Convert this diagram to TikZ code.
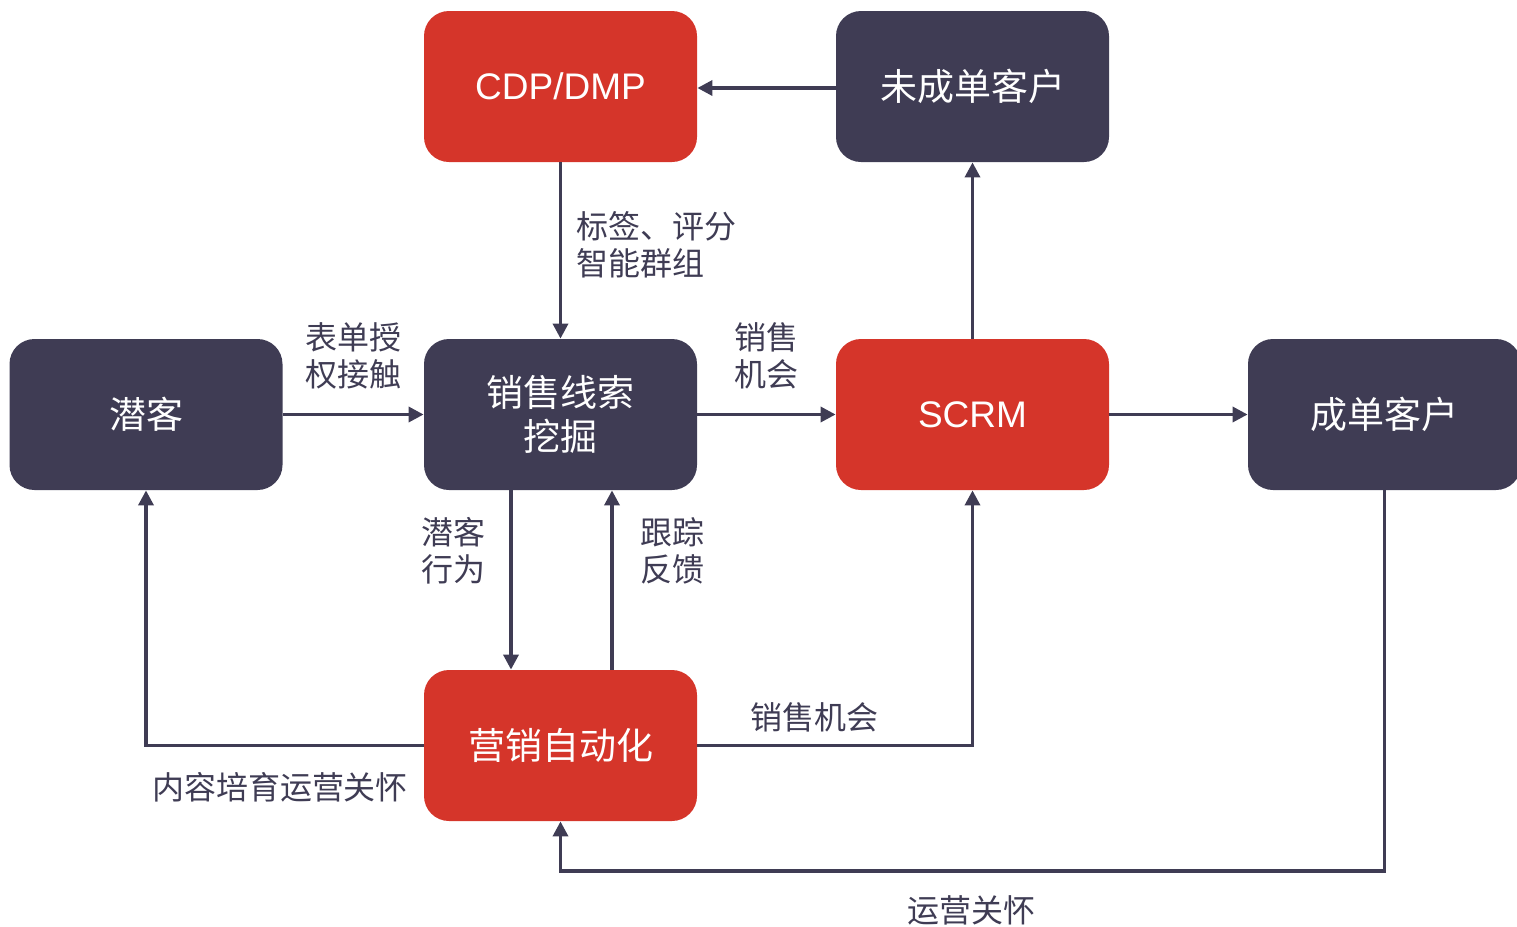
\documentclass[tikz,border=0pt]{standalone}
\usepackage{fontspec}
\setmainfont{Liberation Sans}
\newfontfamily\cjk{Noto Sans CJK SC}
\usetikzlibrary{arrows.meta}
\definecolor{navy}{HTML}{3F3C54}
\definecolor{brick}{HTML}{D5352A}
\tikzset{
  box/.style={rounded corners=12.5pt, minimum width=136.5pt, minimum height=75.5pt, inner sep=0pt, text=white, align=center, font=\cjk\fontsize{18.5}{22}\selectfont},
  darkbox/.style={box, fill=navy},
  redbox/.style={box, fill=brick},
  latinbox/.style={font=\fontsize{18.5}{22}\selectfont},
  conn/.style={draw=navy, line width=1.7pt, -{Triangle[length=7.5pt,width=7.5pt]}},
  lbl/.style={text=navy, inner sep=0pt, align=left, font=\cjk\fontsize{16}{18.5}\selectfont}
}
\begin{document}
\begin{tikzpicture}[x=0.5pt,y=-0.5pt]
\useasboundingbox (0,0) rectangle (1517,927);
\begin{scope}
\clip (0,0) rectangle (1517,927);
\node[redbox, latinbox] (cdp) at (560.5,86.5) {CDP/DMP};
\node[darkbox] (wcd) at (972.5,86.5) {未成单客户};
\node[darkbox] (qk) at (146,414.5) {潜客};
\node[darkbox] (xs) at (560.5,414.5) {销售线索\\挖掘};
\node[redbox, latinbox] (scrm) at (972.5,414.5) {SCRM};
\node[darkbox] (cd) at (1384.5,414.5) {成单客户};
\node[redbox] (ma) at (560.5,745.5) {营销自动化};
\end{scope}
\coordinate (cb) at (1384.5,871);
\draw[conn] ([yshift=-0.75pt]wcd.west) -- ([yshift=-0.75pt]cdp.east);
\draw[conn] (cdp.south) -- (xs.north);
\draw[conn] (qk.east) -- (xs.west);
\draw[conn] (xs.east) -- (scrm.west);
\draw[conn] (scrm.east) -- (cd.west);
\draw[conn] (scrm.north) -- (wcd.south);
\draw[conn] ([xshift=-24.75pt]xs.south) -- ([xshift=-24.75pt]ma.north);
\draw[conn] ([xshift=25.75pt]ma.north) -- ([xshift=25.75pt]xs.south);
\draw[conn] (ma.west) -| (qk.south);
\draw[conn] (ma.east) -| (scrm.south);
\draw[conn] (cd.south) -- (cb) -| (ma.south);
\node[lbl, anchor=west] (l1) at (576,245) {标签、评分\\智能群组};
\node[lbl] (l2) at (353,356) {表单授\\权接触};
\node[lbl] (l3) at (766,356) {销售\\机会};
\node[lbl] (l4) at (453,551) {潜客\\行为};
\node[lbl] (l5) at (672,551) {跟踪\\反馈};
\node[lbl] (l6) at (280,787) {内容培育运营关怀};
\node[lbl] (l7) at (814,717) {销售机会};
\node[lbl] (l8) at (971,910) {运营关怀};
\end{tikzpicture}
\end{document}
